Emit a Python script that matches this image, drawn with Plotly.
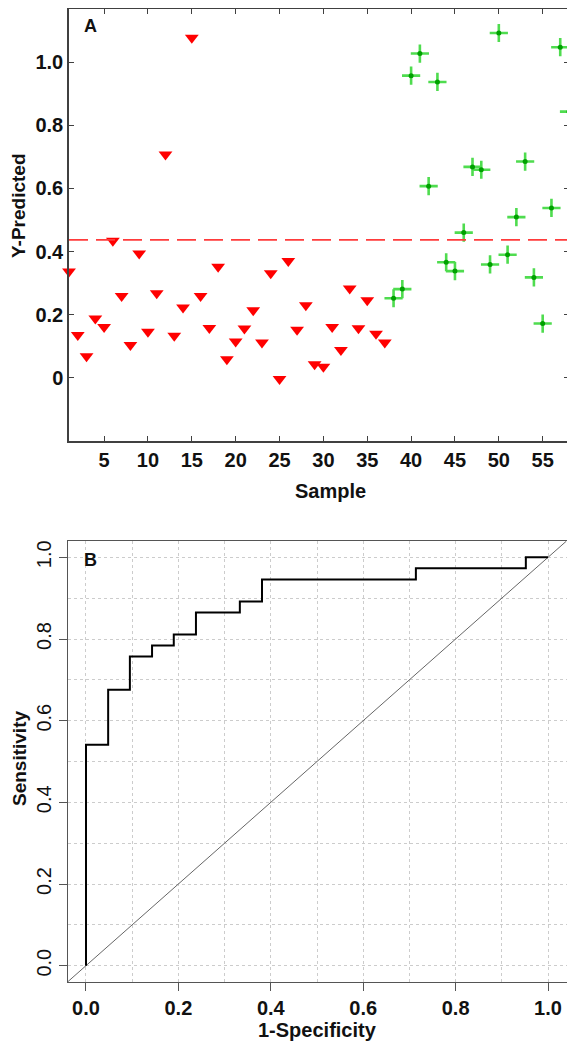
import plotly.graph_objects as go

# ---------------- Panel A data ----------------
red_samples = list(range(1, 38))
red_values = [0.337, 0.136, 0.068, 0.188, 0.161, 0.434, 0.259, 0.104, 0.394, 0.146,
              0.268, 0.707, 0.133, 0.223, 1.077, 0.259, 0.158, 0.352, 0.059, 0.115,
              0.156, 0.214, 0.112, 0.331, -0.004, 0.370, 0.152, 0.230, 0.043, 0.035,
              0.161, 0.088, 0.283, 0.157, 0.246, 0.140, 0.112]
green_samples = list(range(38, 59))
green_values = [0.252, 0.281, 0.957, 1.027, 0.607, 0.937, 0.366, 0.338, 0.460, 0.668,
                0.659, 0.359, 1.092, 0.390, 0.509, 0.685, 0.318, 0.172, 0.538, 1.047,
                0.843]
threshold = 0.437
a_xticks = [5, 10, 15, 20, 25, 30, 35, 40, 45, 50, 55]
a_yticks = [0, 0.2, 0.4, 0.6, 0.8, 1.0]
a_yticklabels = ["0", "0.2", "0.4", "0.6", "0.8", "1.0"]

# ---------------- Panel B data ----------------
roc_fpr = [0.0, 0.048, 0.095, 0.143, 0.190, 0.238, 0.333, 0.381, 0.714, 0.952, 1.0]
roc_tpr = [0.0, 0.541, 0.676, 0.757, 0.784, 0.811, 0.865, 0.892, 0.946, 0.973, 1.0]
b_range = [-0.04, 1.04]

# page is 575x1050; the browser's default body margin offsets the figure by 8px
OFF = 8
W, H = 575 - OFF, 1050 - OFF
FONT = "Arial, Liberation Sans, sans-serif"


def px(x):
    return (x - OFF) / W


def py(y):
    return min(1.0, 1 - (y - OFF) / H)


fig = go.Figure()

# Panel A traces
fig.add_trace(go.Scatter(x=red_samples, y=red_values, mode="markers",
                         marker=dict(symbol="triangle-down", size=12, color="#ff0000",
                                     line=dict(width=0)),
                         cliponaxis=False, xaxis="x", yaxis="y", showlegend=False))
fig.add_trace(go.Scatter(x=green_samples, y=green_values, mode="markers",
                         marker=dict(symbol="cross-thin-open", size=13, color="#4fdc4f",
                                     line=dict(width=2.6, color="#4fdc4f")),
                         cliponaxis=False, xaxis="x", yaxis="y", showlegend=False))
fig.add_trace(go.Scatter(x=green_samples, y=green_values, mode="markers",
                         marker=dict(symbol="circle", size=5, color="#00a000",
                                     line=dict(width=0)),
                         cliponaxis=False, xaxis="x", yaxis="y", showlegend=False))

# Panel B traces
fig.add_trace(go.Scatter(x=b_range, y=b_range, mode="lines",
                         line=dict(color="#666666", width=1),
                         xaxis="x2", yaxis="y2", showlegend=False))
fig.add_trace(go.Scatter(x=roc_fpr, y=roc_tpr, mode="lines",
                         line=dict(color="#000000", width=2, shape="vh"),
                         xaxis="x2", yaxis="y2", showlegend=False))

# threshold line
fig.add_shape(type="line", xref="x domain", yref="y", x0=0, x1=1,
              y0=threshold, y1=threshold,
              line=dict(color="#ff3b3b", width=1.6, dash="19px,8px"))

axA = dict(showline=True, linecolor="#404040", linewidth=1.5, mirror="ticks",
           ticks="inside", ticklen=5, tickwidth=1, tickcolor="#404040",
           showgrid=False, zeroline=False, automargin=False,
           tickfont=dict(family=FONT, size=20, color="#111111", weight="bold"))

grid = dict(showgrid=True, gridcolor="#cccccc", gridwidth=1, griddash="dot")
minor = dict(dtick=0.1, tick0=0, showgrid=True, gridcolor="#cccccc",
             gridwidth=1, griddash="dot", ticks="")
axB = dict(showline=True, linecolor="#555555", linewidth=1, mirror=True,
           ticks="outside", ticklen=8, tickwidth=1, tickcolor="#555555",
           zeroline=False, range=b_range, tickmode="linear", tick0=0, dtick=0.2,
           tickformat=".1f", minor=minor, automargin=False, **grid)

fig.update_layout(
    width=W, height=H, margin=dict(l=0, r=0, t=0, b=0, autoexpand=False),
    paper_bgcolor="white", plot_bgcolor="white",
    xaxis=dict(domain=[px(69), px(569)], range=[1, 58], tickmode="array",
               tickvals=a_xticks, anchor="y", **axA),
    yaxis=dict(domain=[py(441), py(9)], range=[-0.2, 1.168], tickmode="array",
               tickvals=a_yticks, ticktext=a_yticklabels, anchor="x", **axA),
    xaxis2=dict(domain=[px(67.5), px(566.5)], anchor="y2",
                tickfont=dict(family=FONT, size=20, color="#111111", weight="bold"),
                **axB),
    yaxis2=dict(domain=[py(982), py(541)], anchor="x2", tickangle=-90,
                tickfont=dict(family=FONT, size=20, color="#111111"),
                **axB),
)

def label(text, x, y, size=20, angle=0, xanchor="center"):
    fig.add_annotation(text=text, xref="paper", yref="paper", x=px(x), y=py(y),
                       showarrow=False, textangle=angle, xanchor=xanchor,
                       yanchor="middle",
                       font=dict(family=FONT, size=size, color="#111111",
                                 weight="bold"))

label("A", 82, 26, size=18, xanchor="left")
label("B", 82, 560, size=18, xanchor="left")
label("Sample", 330, 491)
label("Y-Predicted", 19, 206, size=19, angle=-90)
label("Sensitivity", 19, 759, size=19, angle=-90)
label("1-Specificity", 317, 1030)

fig.write_html("out.html")
